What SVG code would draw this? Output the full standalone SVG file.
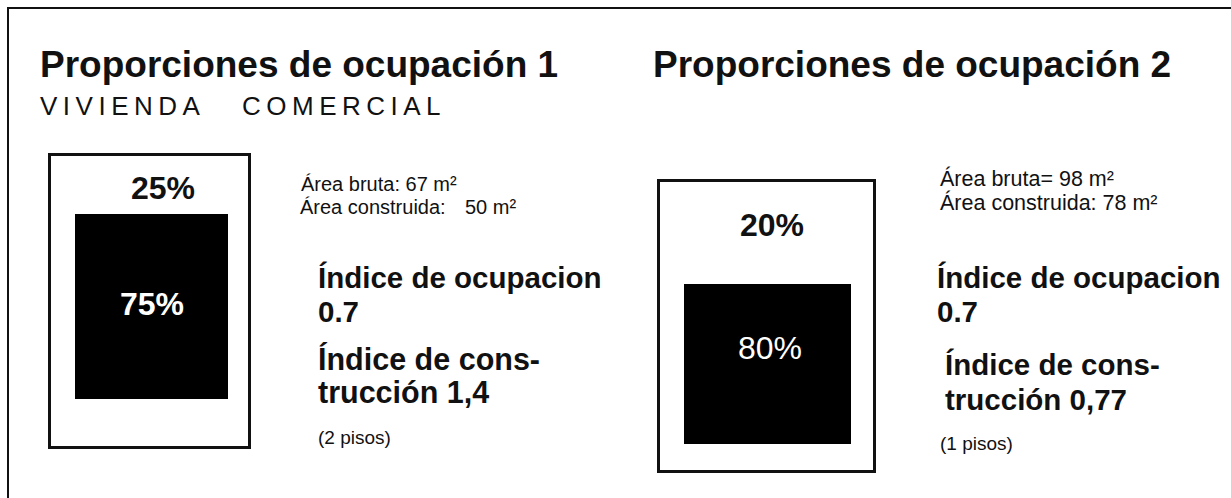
<svg xmlns="http://www.w3.org/2000/svg" width="1231" height="498" viewBox="0 0 1231 498">
<style>
text{font-family:"Liberation Sans",Arial,sans-serif;fill:#111}
.h{font-size:37px;font-weight:bold}
.sub{font-size:26px;letter-spacing:5.5px}
.a{font-size:20px}
.a2{font-size:21.5px}
.i{font-size:29.5px;font-weight:bold}
.p{font-size:19px}
.pct{font-size:32px;font-weight:bold;text-anchor:middle}
.frame{fill:none;stroke:#111;stroke-width:2}
.lot{fill:#fff;stroke:#111;stroke-width:3}
.blk{fill:#000}
</style>
<rect width="1231" height="498" fill="#fff"/>
<g id="frame"><path class="frame" d="M8 498 V8 H1231"/></g>
<g id="titulo1">
<text class="h" x="40" y="77">Proporciones de ocupación 1</text>
<text class="sub" y="115"><tspan x="40">VIVIENDA</tspan><tspan x="242">COMERCIAL</tspan></text>
</g>
<g id="titulo2"><text class="h" x="653" y="77">Proporciones de ocupación 2</text></g>
<g id="lote1">
<rect class="lot" x="49.5" y="154.5" width="200" height="293"/>
<text class="pct" x="163" y="199">25%</text>
<rect class="blk" x="75" y="214" width="153" height="185"/>
<text class="pct" x="152" y="315" style="fill:#fff">75%</text>
</g>
<g id="datos1">
<text class="a" x="301" y="191">Área bruta: 67 m²</text>
<text class="a" y="214"><tspan x="300">Área construida:</tspan><tspan x="465">50 m²</tspan></text>
<text class="i" x="318" y="288">Índice de ocupacion</text>
<text class="i" x="318" y="322">0.7</text>
<text class="i" x="318" y="370" style="font-size:30.5px">Índice de cons-</text>
<text class="i" x="318" y="403" style="font-size:30.5px">trucción 1,4</text>
<text class="p" x="318" y="444">(2 pisos)</text>
</g>
<g id="lote2">
<rect class="lot" x="658.5" y="180.5" width="216" height="291"/>
<text class="pct" x="772" y="236">20%</text>
<rect class="blk" x="684" y="284" width="167" height="160"/>
<text class="pct" x="770" y="359" style="fill:#fff;font-weight:normal">80%</text>
</g>
<g id="datos2">
<text class="a2" x="940" y="186">Área bruta= 98 m²</text>
<text class="a2" x="940" y="210">Área construida: 78 m²</text>
<text class="i" x="937" y="288">Índice de ocupacion</text>
<text class="i" x="937" y="322">0.7</text>
<text class="i" x="945" y="375">Índice de cons-</text>
<text class="i" x="945" y="410">trucción 0,77</text>
<text class="p" x="940" y="450">(1 pisos)</text>
</g>
<g id="connectors"/>
</svg>
